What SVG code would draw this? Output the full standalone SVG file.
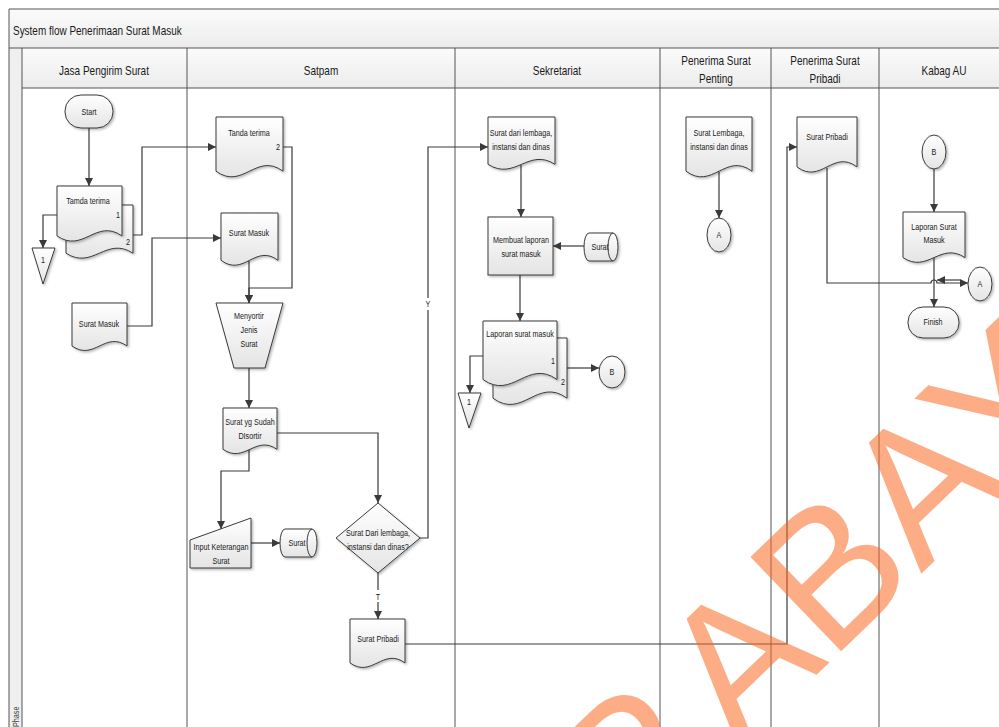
<svg xmlns="http://www.w3.org/2000/svg" width="999" height="727" viewBox="0 0 999 727">
  <defs>
    <linearGradient id="nodeFill" x1="0" y1="0" x2="0" y2="1">
      <stop offset="0" stop-color="#ffffff"/>
      <stop offset="1" stop-color="#e4e4e4"/>
    </linearGradient>
    <linearGradient id="barFill" x1="0" y1="0" x2="0" y2="1">
      <stop offset="0" stop-color="#fbfbfb"/>
      <stop offset="1" stop-color="#ececec"/>
    </linearGradient>
    <filter id="shadow" x="-20%" y="-20%" width="150%" height="150%">
      <feDropShadow dx="1.5" dy="1.5" stdDeviation="1.2" flood-color="#000" flood-opacity="0.28"/>
    </filter>
    <marker id="arrow" viewBox="0 0 10 10" refX="10" refY="5" markerWidth="9" markerHeight="8" markerUnits="userSpaceOnUse" orient="auto">
      <path d="M0,0 L10,5 L0,10 z" fill="#3a3a3a"/>
    </marker>
    <style>
      .frame { fill:none; stroke:#555555; stroke-width:1; }
      .node { fill:url(#nodeFill); stroke:#3a3a3a; stroke-width:1; filter:url(#shadow); }
      .conn { fill:none; stroke:#3a3a3a; stroke-width:1.2; marker-end:url(#arrow); }
      .line { fill:none; stroke:#3a3a3a; stroke-width:1; }
      .t { font-family:"Liberation Sans",Arial,sans-serif; font-size:9px; fill:#1a1a1a; text-anchor:middle; }
      .hd { font-family:"Liberation Sans",Arial,sans-serif; font-size:12.5px; fill:#1a1a1a; text-anchor:middle; }
    </style>
  </defs>

  <rect width="999" height="727" fill="#ffffff"/>

  <!-- swimlane frame -->
  <g id="frame">
    <rect x="9" y="9" width="1000" height="39" fill="url(#barFill)"/>
    <rect x="22" y="48" width="987" height="40" fill="url(#barFill)"/>
    <rect x="9" y="48" width="13" height="690" fill="#efefef"/>
    <path class="frame" d="M9,727 V9 H999 M9,48 H999 M22,88 H999 M22,48 V727 M187,48 V727 M455,48 V727 M660,48 V727 M771,48 V727 M879,48 V727"/>
    <text transform="translate(13,35) scale(.83,1)" font-family="'Liberation Sans',Arial,sans-serif" font-size="12" fill="#1a1a1a">System flow Penerimaan Surat Masuk</text>
    <text transform="translate(19,727) rotate(-90) scale(.85,1)" font-family="'Liberation Sans',Arial,sans-serif" font-size="8.5" fill="#444">Phase</text>
    <text class="hd" transform="translate(104,75) scale(.8,1)">Jasa Pengirim Surat</text>
    <text class="hd" transform="translate(321,75) scale(.8,1)">Satpam</text>
    <text class="hd" transform="translate(557,75) scale(.8,1)">Sekretariat</text>
    <text class="hd" transform="translate(716,65) scale(.8,1)">Penerima Surat</text>
    <text class="hd" transform="translate(716,83) scale(.8,1)">Penting</text>
    <text class="hd" transform="translate(825,65) scale(.8,1)">Penerima Surat</text>
    <text class="hd" transform="translate(825,83) scale(.8,1)">Pribadi</text>
    <text class="hd" transform="translate(944,75) scale(.8,1)">Kabag AU</text>
  </g>

  <!-- connectors -->
  <g id="connectors">
    <path class="conn" d="M89,128 V186"/>
    <path class="conn" d="M57,215 H43 V248"/>
    <path class="conn" d="M133,235 H142 V147 H216"/>
    <path class="conn" d="M127,326 H152 V238 H221"/>
    <path class="conn" d="M283,147 H292 V288 H249 V303"/>
    <path class="conn" d="M249,261 V303"/>
    <path class="conn" d="M249,368 V408"/>
    <path class="conn" d="M277,433 H378 V503"/>
    <path class="conn" d="M249,450 V471 H221 V529"/>
    <path class="conn" d="M251,543 H280"/>
    <path class="conn" d="M420,538 H428 V147 H488"/>
    <path class="conn" d="M378,573 V619"/>
    <path class="conn" d="M405,644 H787 V147 H797"/>
    <path class="conn" d="M521,165 V217"/>
    <path class="conn" d="M584,246 H553"/>
    <path class="conn" d="M520,275 V321"/>
    <path class="conn" d="M483,356 H470 V393"/>
    <path class="conn" d="M567,368 H599"/>
    <path class="conn" d="M719,172 V218"/>
    <path class="conn" d="M827,168 V283 H931 A3,3 0 0 1 937,283 H968"/>
    <path class="conn" d="M960,280 H937"/>
    <path class="conn" d="M934,169 V212"/>
    <path class="conn" d="M934,258 V307"/>
    <rect x="423" y="298" width="10" height="12" fill="#ffffff"/>
    <text class="t" transform="translate(428,307) scale(.8,1)">Y</text>
    <rect x="373" y="590" width="10" height="12" fill="#ffffff"/>
    <text class="t" transform="translate(378,600) scale(.8,1)">T</text>
  </g>

  <!-- Jasa Pengirim Surat -->
  <g id="start">
    <rect class="node" x="65" y="95" width="48" height="33" rx="16" ry="16"/>
    <text class="t" transform="translate(89,115) scale(.8,1)">Start</text>
  </g>
  <g id="tamda-terima">
    <path class="node" d="M66,205 H133 V253.2 C106.2,235.8 92.8,270.5 66,253.2 Z"/>
    <path class="node" d="M57,186 H122 V235.9 C96,217.9 83,253.9 57,235.9 Z"/>
    <text class="t" transform="translate(88,204) scale(.8,1)">Tamda terima</text>
    <text class="t" transform="translate(118,218) scale(.8,1)">1</text>
    <text class="t" transform="translate(128,245) scale(.8,1)">2</text>
  </g>
  <g id="arsip-1-jasa">
    <path class="node" d="M32,248 H55 L43,284 Z"/>
    <text class="t" transform="translate(43,263) scale(.8,1)">1</text>
  </g>
  <g id="surat-masuk-jasa">
    <path class="node" d="M72,303 H127 V346 C105,330.5 94,361.5 72,346 Z"/>
    <text class="t" transform="translate(99,327) scale(.8,1)">Surat Masuk</text>
  </g>

  <!-- Satpam -->
  <g id="tanda-terima">
    <path class="node" d="M216,117 H283 V171.2 C256.2,151.7 242.8,190.7 216,171.2 Z"/>
    <text class="t" transform="translate(249,136) scale(.8,1)">Tanda terima</text>
    <text class="t" transform="translate(278,150) scale(.8,1)">2</text>
  </g>
  <g id="surat-masuk-satpam">
    <path class="node" d="M221,213 H278 V260.3 C255.2,243.3 243.8,277.4 221,260.3 Z"/>
    <text class="t" transform="translate(249,236) scale(.8,1)">Surat Masuk</text>
  </g>
  <g id="menyortir">
    <path class="node" d="M216,303 H283 L265,368 H234 Z"/>
    <text class="t" transform="translate(249,319) scale(.8,1)">Menyortir</text>
    <text class="t" transform="translate(249,333) scale(.8,1)">Jenis</text>
    <text class="t" transform="translate(249,347) scale(.8,1)">Surat</text>
  </g>
  <g id="surat-disortir">
    <path class="node" d="M223,408 H277 V449.3 C255.4,434.4 244.6,464.2 223,449.3 Z"/>
    <text class="t" transform="translate(250,425) scale(.8,1)">Surat yg Sudah</text>
    <text class="t" transform="translate(250,439) scale(.8,1)">DIsortir</text>
  </g>
  <g id="input-keterangan">
    <path class="node" d="M190,540 L251,518 V568 H190 Z"/>
    <text class="t" transform="translate(221,550) scale(.8,1)">Input Keterangan</text>
    <text class="t" transform="translate(221,564) scale(.8,1)">Surat</text>
  </g>
  <g id="disk-surat-satpam">
    <path class="node" d="M285,529 H312 A5,14 0 0 1 312,557 H285 A5,14 0 0 1 285,529 Z"/>
    <path class="line" d="M312,529 A5,14 0 0 0 312,557"/>
    <text class="t" transform="translate(297,546) scale(.8,1)">Surat</text>
  </g>
  <g id="keputusan">
    <path class="node" d="M378,503 L420,538 L378,573 L336,538 Z"/>
    <text class="t" transform="translate(378,536) scale(.8,1)">Surat Dari lembaga,</text>
    <text class="t" transform="translate(378,550) scale(.8,1)">instansi dan dinas?</text>
  </g>
  <g id="surat-pribadi-satpam">
    <path class="node" d="M350,619 H405 V662.9 C383,647 372,678.7 350,662.9 Z"/>
    <text class="t" transform="translate(378,642) scale(.8,1)">Surat Pribadi</text>
  </g>

  <!-- Sekretariat -->
  <g id="surat-lembaga-sekretariat">
    <path class="node" d="M488,117 H555 V164.3 C528.2,147.3 514.8,181.4 488,164.3 Z"/>
    <text class="t" transform="translate(521,136) scale(.8,1)">Surat dari lembaga,</text>
    <text class="t" transform="translate(521,150) scale(.8,1)">instansi dan dinas</text>
  </g>
  <g id="membuat-laporan">
    <rect class="node" x="488" y="217" width="65" height="58"/>
    <text class="t" transform="translate(521,243) scale(.8,1)">Membuat laporan</text>
    <text class="t" transform="translate(521,257) scale(.8,1)">surat masuk</text>
  </g>
  <g id="disk-surat-sekretariat">
    <path class="node" d="M589,233 H613 A5,14 0 0 1 613,261 H589 A5,14 0 0 1 589,233 Z"/>
    <path class="line" d="M613,233 A5,14 0 0 0 613,261"/>
    <text class="t" transform="translate(600,250) scale(.8,1)">Surat</text>
  </g>
  <g id="laporan-surat-masuk">
    <path class="node" d="M493,338 H567 V398.2 C537.4,376.5 522.6,419.9 493,398.2 Z"/>
    <path class="node" d="M483,321 H557 V379.5 C527.4,358.4 512.6,400.6 483,379.5 Z"/>
    <text class="t" transform="translate(520,337) scale(.8,1)">Laporan surat masuk</text>
    <text class="t" transform="translate(553,364) scale(.8,1)">1</text>
    <text class="t" transform="translate(563,385) scale(.8,1)">2</text>
  </g>
  <g id="arsip-1-sekretariat">
    <path class="node" d="M458,393 H481 L469,428 Z"/>
    <text class="t" transform="translate(469,405) scale(.8,1)">1</text>
  </g>
  <g id="konektor-b-sekretariat">
    <ellipse class="node" cx="612" cy="372" rx="13" ry="16"/>
    <text class="t" transform="translate(612,375) scale(.8,1)">B</text>
  </g>

  <!-- Penerima Surat Penting -->
  <g id="surat-lembaga-penting">
    <path class="node" d="M686,117 H752 V171.2 C725.6,151.7 712.4,190.7 686,171.2 Z"/>
    <text class="t" transform="translate(719,136) scale(.8,1)">Surat Lembaga,</text>
    <text class="t" transform="translate(719,150) scale(.8,1)">instansi dan dinas</text>
  </g>
  <g id="konektor-a-penting">
    <ellipse class="node" cx="719" cy="235" rx="12" ry="17"/>
    <text class="t" transform="translate(719,238) scale(.8,1)">A</text>
  </g>

  <!-- Penerima Surat Pribadi -->
  <g id="surat-pribadi">
    <path class="node" d="M797,117 H857 V166.9 C833,148.9 821,184.9 797,166.9 Z"/>
    <text class="t" transform="translate(827,140) scale(.8,1)">Surat Pribadi</text>
  </g>

  <!-- Kabag AU -->
  <g id="konektor-b-kabag">
    <ellipse class="node" cx="934" cy="152" rx="12" ry="17"/>
    <text class="t" transform="translate(934,155) scale(.8,1)">B</text>
  </g>
  <g id="laporan-kabag">
    <path class="node" d="M903,212 H965 V257.6 C940.2,241.2 927.8,274 903,257.6 Z"/>
    <text class="t" transform="translate(934,230) scale(.8,1)">Laporan Surat</text>
    <text class="t" transform="translate(934,243) scale(.8,1)">Masuk</text>
  </g>
  <g id="konektor-a-kabag">
    <ellipse class="node" cx="980" cy="284" rx="12" ry="17"/>
    <text class="t" transform="translate(980,287) scale(.8,1)">A</text>
  </g>
  <g id="finish">
    <rect class="node" x="908" y="307" width="51" height="31" rx="15" ry="15"/>
    <text class="t" transform="translate(933,325) scale(.8,1)">Finish</text>
  </g>

  <!-- watermark -->
  <text transform="translate(830,662) rotate(-44)" x="-548" y="0" font-family="'Liberation Sans',Arial,sans-serif" font-size="190" fill="#f96a23" fill-opacity="0.55">SUR<tspan dx="20">ABAYA</tspan></text>
</svg>
